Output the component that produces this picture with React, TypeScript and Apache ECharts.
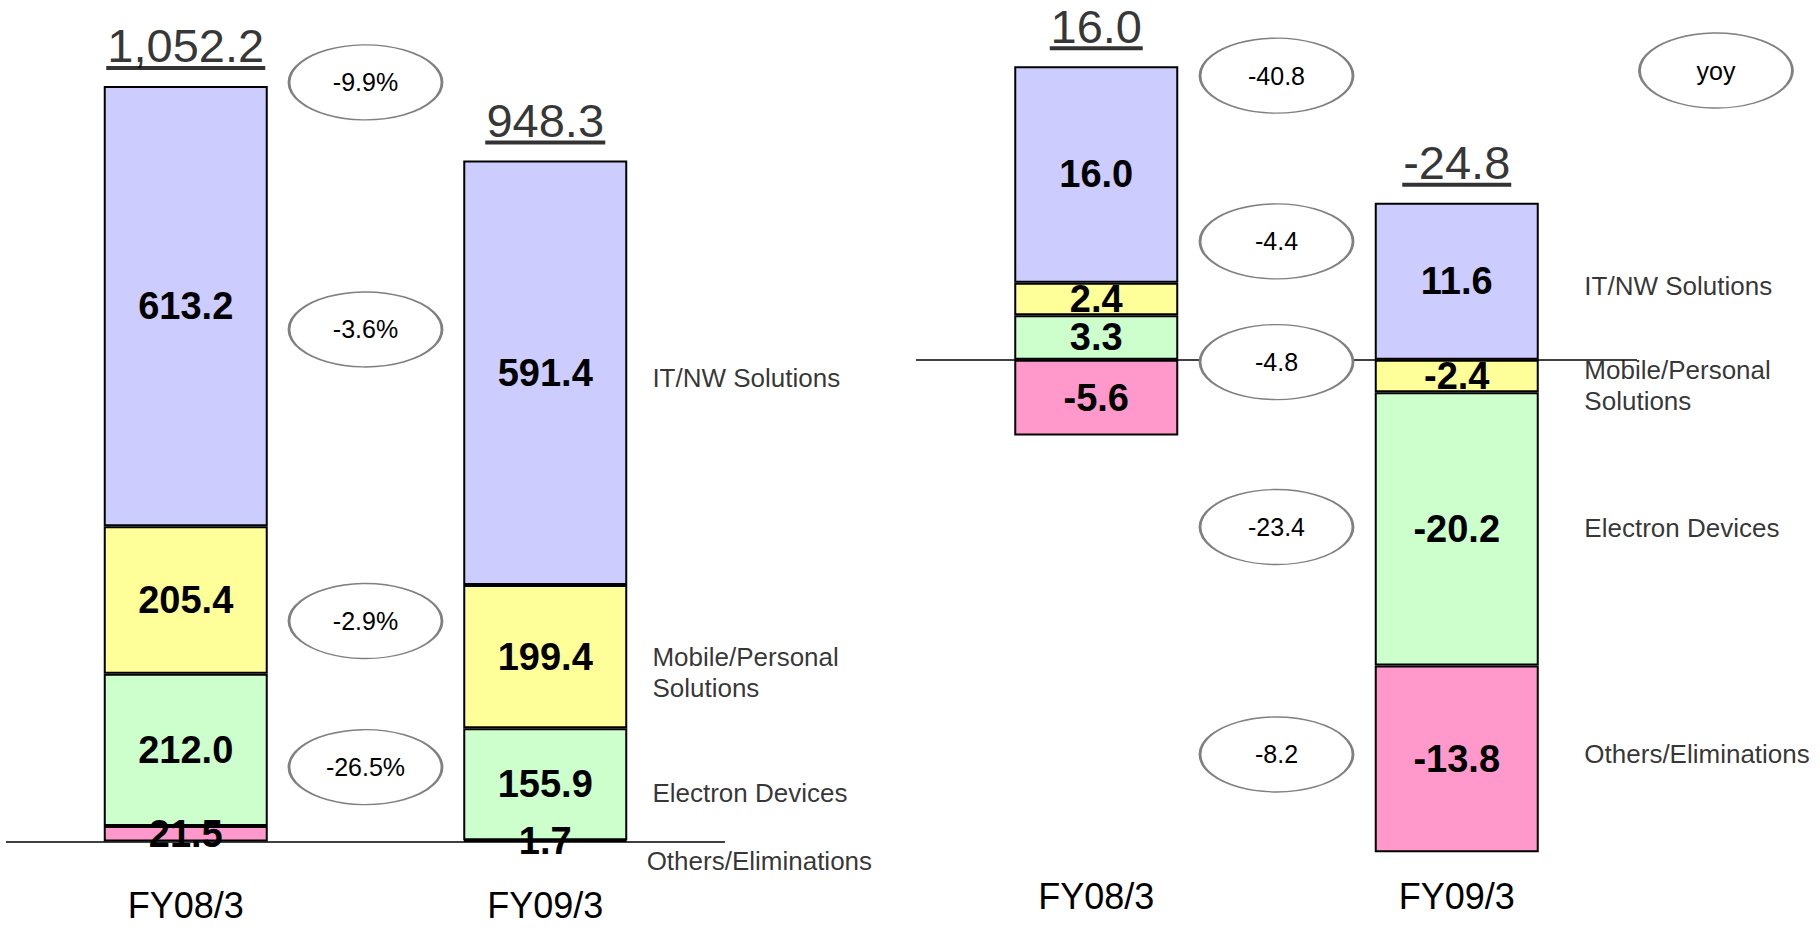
import React, { useEffect, useRef } from 'react';
import * as echarts from 'echarts';

// ---------- data ----------
const categories = ['FY08/3', 'FY09/3'];
const segmentNames = ['IT/NW Solutions', 'Mobile/Personal\nSolutions', 'Electron Devices', 'Others/Eliminations'];

const salesIT = [613.2, 591.4];
const salesMobile = [205.4, 199.4];
const salesElectron = [212.0, 155.9];
const salesOthers = [21.5, 1.7];
const salesTotal = [1052.2, 948.3];
const salesYoy = ['-9.9%', '-3.6%', '-2.9%', '-26.5%'];

const incomeIT = [16.0, 11.6];
const incomeMobile = [2.4, -2.4];
const incomeElectron = [3.3, -20.2];
const incomeOthers = [-5.6, -13.8];
const incomeTotal = [16.0, -24.8];
const incomeYoy = ['-40.8', '-4.4', '-4.8', '-23.4', '-8.2'];

// ---------- layout (annotation anchors, in axis units) ----------
const salesYoyAnchor = [1057, 713, 307, 103.5];
const incomeYoyAnchor = [21.0, 8.75, -0.17, -12.36, -29.17];
const salesNameAnchorY = [645.5, 235.2, 67.8, -27.2];
const salesNameAnchorX = [1.798, 1.798, 1.798, 1.782];
const incomeNameAnchorY = [5.49, -1.89, -12.44, -29.17];
const incomeNameAnchorX = [1.854, 1.854, 1.854, 1.854];
const yoyBadgePos = [2.219, 21.38];

const COLORS = { it: '#CCCCFF', mobile: '#FFFF99', electron: '#CCFFCC', others: '#FF99CC' };
const FONT = '"Liberation Sans", Arial, Helvetica, sans-serif';
const TOTAL_SIZE = 47;

function measure(text: string, font: string): number {
  const ctx = document.createElement('canvas').getContext('2d');
  if (!ctx) return text.length * 25;
  ctx.font = font;
  return ctx.measureText(text).width;
}

type Seg = { key: string; data: number[]; color: string };

function barSeries(segs: Seg[], xIdx: number, yIdx: number, stack: string) {
  const byKey: Record<string, Seg> = {};
  segs.forEach((s) => (byKey[s.key] = s));
  const posOrder = ['others', 'electron', 'mobile', 'it'];
  const negOrder = ['it', 'mobile', 'electron', 'others'];
  const mk = (key: string, sign: number) => {
    const s = byKey[key];
    return {
      type: 'bar',
      name: key + (sign > 0 ? '+' : '-'),
      xAxisIndex: xIdx,
      yAxisIndex: yIdx,
      stack,
      barWidth: 164,
      data: s.data.map((v) => (sign > 0 ? (v >= 0 ? v : '-') : v < 0 ? v : '-')),
      itemStyle: { color: s.color, borderColor: '#000', borderWidth: 2 },
      label: {
        show: true,
        position: 'inside',
        fontSize: 38,
        lineHeight: 30,
        fontWeight: 'bold',
        fontFamily: FONT,
        color: '#000',
        formatter: (p: any) => Number(p.value).toFixed(1),
      },
      z: 2,
    };
  };
  return [...posOrder.map((k) => mk(k, 1)), ...negOrder.map((k) => mk(k, -1))];
}

function zeroLine(xIdx: number, yIdx: number) {
  return {
    type: 'line',
    xAxisIndex: xIdx,
    yAxisIndex: yIdx,
    data: [],
    silent: true,
    markLine: {
      silent: true,
      symbol: ['none', 'none'],
      label: { show: false },
      lineStyle: { color: '#000', width: 1.5, type: 'solid' },
      data: [{ yAxis: 0 }],
    },
    z: 3,
  };
}

function fmtTotal(v: number) {
  return v.toLocaleString('en-US', { minimumFractionDigits: 1, maximumFractionDigits: 1 });
}

function totalSeries(segs: number[][], totals: number[], xIdx: number, yIdx: number) {
  const posTop = categories.map((_, i) => segs.reduce((a, s) => a + (s[i] > 0 ? s[i] : 0), 0));
  return {
    type: 'scatter',
    xAxisIndex: xIdx,
    yAxisIndex: yIdx,
    symbolSize: 0,
    clip: false,
    silent: true,
    data: posTop.map((v, i) => {
      const txt = fmtTotal(totals[i]);
      const w = Math.round(measure(txt, `${TOTAL_SIZE}px ${FONT}`)) + 2;
      return {
        value: [i, v],
        label: {
          formatter: '{t|' + txt + '}\n{u| }',
          rich: {
            t: { fontSize: TOTAL_SIZE, lineHeight: 40, fontFamily: FONT, color: '#000', width: w, align: 'center' },
            u: { width: w, height: 4, lineHeight: 4, fontSize: 1, backgroundColor: '#000' },
          },
        },
      };
    }),
    label: {
      show: true,
      position: 'top',
      distance: 16,
    },
    z: 4,
  };
}

function yoySeries(anchors: number[], texts: string[], xIdx: number, yIdx: number, xs?: number[]) {
  return {
    type: 'scatter',
    xAxisIndex: xIdx,
    yAxisIndex: yIdx,
    symbol: 'circle',
    symbolSize: [153, 75],
    clip: false,
    silent: true,
    itemStyle: { color: '#fff', borderColor: '#808080', borderWidth: 2, opacity: 1 },
    data: anchors.map((y, i) => [xs ? xs[i] : 1, y]),
    label: {
      show: true,
      position: 'inside',
      fontSize: 25,
      fontFamily: FONT,
      color: '#000',
      formatter: (p: any) => texts[p.dataIndex],
    },
    z: 5,
  };
}

function nameSeries(xs: number[], ys: number[], xIdx: number, yIdx: number) {
  return {
    type: 'scatter',
    xAxisIndex: xIdx,
    yAxisIndex: yIdx,
    symbolSize: 0,
    clip: false,
    silent: true,
    data: ys.map((y, i) => [xs[i], y]),
    label: {
      show: true,
      position: 'right',
      distance: 0,
      fontSize: 26,
      lineHeight: 31,
      fontFamily: FONT,
      color: '#000',
      formatter: (p: any) => segmentNames[p.dataIndex],
    },
    z: 4,
  };
}

const salesSegs: Seg[] = [
  { key: 'it', data: salesIT, color: COLORS.it },
  { key: 'mobile', data: salesMobile, color: COLORS.mobile },
  { key: 'electron', data: salesElectron, color: COLORS.electron },
  { key: 'others', data: salesOthers, color: COLORS.others },
];
const incomeSegs: Seg[] = [
  { key: 'it', data: incomeIT, color: COLORS.it },
  { key: 'mobile', data: incomeMobile, color: COLORS.mobile },
  { key: 'electron', data: incomeElectron, color: COLORS.electron },
  { key: 'others', data: incomeOthers, color: COLORS.others },
];

const catAxis = (grid: number, margin: number) => ({
  type: 'category',
  gridIndex: grid,
  data: categories,
  axisLine: { show: false },
  axisTick: { show: false },
  splitLine: { show: false },
  axisLabel: { fontSize: 36, lineHeight: 40, margin, color: '#000', fontFamily: FONT },
});

function buildOption(): any {
  return {
    animation: false,
    backgroundColor: '#fff',
    grid: [
      { left: 6, width: 719, top: 51.5, height: 790 },
      { left: 916, width: 721, top: 21.55, height: 852.4 },
    ],
    xAxis: [
      catAxis(0, 44),
      { type: 'value', gridIndex: 0, min: 0, max: 2, show: false },
      catAxis(1, 3),
      { type: 'value', gridIndex: 1, min: 0, max: 2, show: false },
    ],
    yAxis: [
      { type: 'value', gridIndex: 0, min: 0, max: 1100, show: false },
      { type: 'value', gridIndex: 1, min: -38, max: 25, show: false },
    ],
    series: [
      ...barSeries(salesSegs, 0, 0, 'sales'),
      ...barSeries(incomeSegs, 2, 1, 'income'),
      zeroLine(0, 0),
      zeroLine(2, 1),
      totalSeries(salesSegs.map((s) => s.data), salesTotal, 0, 0),
      totalSeries(incomeSegs.map((s) => s.data), incomeTotal, 2, 1),
      yoySeries(salesYoyAnchor, salesYoy, 1, 0),
      yoySeries(incomeYoyAnchor, incomeYoy, 3, 1),
      yoySeries([yoyBadgePos[1]], ['yoy'], 3, 1, [yoyBadgePos[0]]),
      nameSeries(salesNameAnchorX, salesNameAnchorY, 1, 0),
      nameSeries(incomeNameAnchorX, incomeNameAnchorY, 3, 1),
    ],
  };
}

export default function App() {
  const ref = useRef<HTMLDivElement>(null);
  useEffect(() => {
    document.body.style.margin = '0';
    const chart = echarts.init(ref.current as HTMLDivElement, null, { renderer: 'svg' });
    chart.setOption(buildOption());
    return () => chart.dispose();
  }, []);
  return <div ref={ref} style={{ width: 1820, height: 929 }} />;
}
